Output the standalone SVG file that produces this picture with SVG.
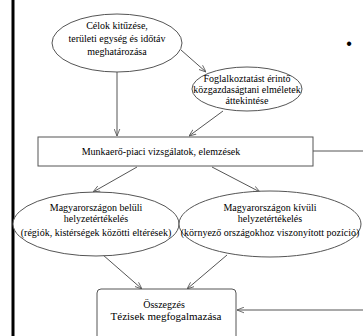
<svg xmlns="http://www.w3.org/2000/svg" width="363" height="336" viewBox="0 0 363 336">
<style>
.shape{fill:#fff;stroke:#555;stroke-width:1}
.ln{fill:none;stroke:#555;stroke-width:1}
.t{font-family:"Liberation Serif","Times New Roman",serif;font-size:10px;fill:#000;text-anchor:middle}
</style>
<defs>
<marker id="ah" viewBox="0 0 10 10" refX="10" refY="5" markerWidth="7" markerHeight="7" orient="auto" markerUnits="userSpaceOnUse">
<path d="M0,1 L10,5 L0,9" fill="none" stroke="#555" stroke-width="1.2"/>
</marker>
</defs>
<rect width="363" height="336" fill="#fff"/>
<line x1="13" y1="0" x2="13" y2="336" stroke="#000" stroke-width="3"/>
<text x="349" y="49" style="font-family:'Liberation Sans',Arial,sans-serif;font-size:16px" text-anchor="middle">•</text>
<g id="connectors">
<line class="ln" x1="117" y1="72" x2="117" y2="136" marker-end="url(#ah)"/>
<line class="ln" x1="181" y1="50" x2="206" y2="72" marker-end="url(#ah)"/>
<line class="ln" x1="223" y1="111" x2="189" y2="136" marker-end="url(#ah)"/>
<line class="ln" x1="313" y1="151" x2="363" y2="151"/>
<line class="ln" x1="137" y1="167" x2="93" y2="192" marker-end="url(#ah)"/>
<line class="ln" x1="212" y1="167" x2="260" y2="192" marker-end="url(#ah)"/>
<line class="ln" x1="103" y1="255" x2="142" y2="289" marker-end="url(#ah)"/>
<line class="ln" x1="227" y1="255" x2="187" y2="289" marker-end="url(#ah)"/>
<line class="ln" x1="363" y1="310" x2="237" y2="310" marker-end="url(#ah)"/>
</g>
<g id="n1">
<ellipse class="shape" cx="117" cy="43" rx="65" ry="29"/>
<text class="t" x="117" y="29">Célok kitűzése,</text>
<text class="t" x="117" y="42">területi egység és időtáv</text>
<text class="t" x="117" y="55">meghatározása</text>
</g>
<g id="n2">
<ellipse class="shape" cx="247" cy="89" rx="55" ry="22"/>
<text class="t" x="247" y="82">Foglalkoztatást érintő</text>
<text class="t" x="247" y="93">közgazdaságtani elméletek</text>
<text class="t" x="247" y="104">áttekintése</text>
</g>
<g id="n3">
<rect class="shape" x="38" y="137" width="275" height="29"/>
<text class="t" x="161" y="155">Munkaerő-piaci vizsgálatok, elemzések</text>
</g>
<g id="n4">
<ellipse class="shape" cx="96" cy="224" rx="83" ry="32"/>
<text class="t" x="96" y="211">Magyarországon belüli</text>
<text class="t" x="96" y="222">helyzetértékelés</text>
<text class="t" x="96" y="236">(régiók, kistérségek közötti eltérések)</text>
</g>
<g id="n5">
<ellipse class="shape" cx="270" cy="224" rx="91" ry="33"/>
<text class="t" x="270" y="211">Magyarországon kívüli</text>
<text class="t" x="270" y="222">helyzetértékelés</text>
<text class="t" x="270" y="236">(környező országokhoz viszonyított pozíció)</text>
</g>
<g id="n6">
<rect class="shape" x="97" y="289" width="139" height="60" rx="4"/>
<text class="t" x="164" y="308">Összegzés</text>
<text class="t" x="166" y="320" style="font-size:11px">Tézisek megfogalmazása</text>
</g>
</svg>
